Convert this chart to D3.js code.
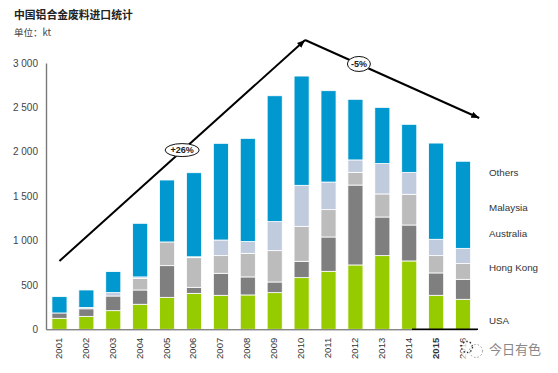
<!doctype html>
<html lang="en">
    <head>
        <meta charset="utf-8">
        <title>中国铝合金废料进口统计</title>
        <script type="text/javascript" src="https://d3js.org/d3.v7.min.js"></script>
        <style>
            body { margin: 0; background: #fff; }
            svg { display: block; }
            text { font-family: "Liberation Sans", Arial, sans-serif; }
            .cjk { font-family: "Noto Sans CJK SC", sans-serif; }
        </style>
    </head>
    <body>
        <script type="text/javascript">
            var svgW = 558;
            var svgH = 373;

            var years = ["2001", "2002", "2003", "2004", "2005", "2006", "2007", "2008",
                         "2009", "2010", "2011", "2012", "2013", "2014", "2015", "2016"];
            var usa       = [124, 146, 210, 282, 360, 405, 383, 387, 413, 582, 653, 725, 830, 770, 383, 338];
            var hongKong  = [60, 85, 165, 161, 357, 68, 248, 203, 120, 184, 387, 900, 435, 405, 252, 225];
            var australia = [0, 0, 0, 128, 267, 334, 199, 266, 353, 394, 308, 143, 260, 346, 195, 177];
            var malaysia  = [0, 15, 38, 19, 0, 10, 176, 132, 327, 462, 311, 140, 342, 247, 184, 172];
            var others    = [184, 197, 237, 604, 698, 947, 1089, 1163, 1418, 1231, 1029, 683, 633, 541, 1084, 981];

            var seriesNames = ["USA", "Hong Kong", "Australia", "Malaysia", "Others"];
            var seriesValues = [usa, hongKong, australia, malaysia, others];
            var yTicks = [0, 500, 1000, 1500, 2000, 2500, 3000];

            var seriesColors = ["#96cb00", "#7f7f7f", "#bcbcbc", "#c0cbdd", "#0098ce"];

            var table = years.map((y, i) => {
                var row = { year: y };
                seriesNames.forEach((n, k) => { row[n] = seriesValues[k][i]; });
                return row;
            });

            var xScale = d3.scaleBand()
                           .domain(years)
                           .range([46, 476.5])
                           .paddingInner(0.44)
                           .paddingOuter(0.22);

            var yScale = d3.scaleLinear()
                           .domain([0, 3000])
                           .range([329.3, 63]);

            // same positions as the bar centres, but takes fractions of a year
            var yearScale = d3.scaleLinear()
                              .domain([2001, 2016])
                              .range([xScale("2001") + xScale.bandwidth() / 2,
                                      xScale("2016") + xScale.bandwidth() / 2]);

            var svg = d3.select("body")
                        .append("svg")
                        .attr("width", svgW)
                        .attr("height", svgH);

            // Stacked bars
            var series = d3.stack().keys(seriesNames)(table);

            svg.append("g")
               .selectAll("g")
               .data(series)
               .enter()
               .append("g")
               .attr("fill", (_, i) => seriesColors[i])
               .selectAll("rect")
               .data(d => d)
               .enter()
               .append("rect")
               .attr("x", d => xScale(d.data.year))
               .attr("y", d => yScale(d[1]))
               .attr("width", xScale.bandwidth())
               .attr("height", d => Math.max(0, yScale(d[0]) - yScale(d[1])))
               .attr("stroke", "#fff")
               .attr("stroke-width", 0.8);

            // Axes
            var yAxis = d3.axisLeft(yScale)
                          .tickValues(yTicks)
                          .tickSize(0)
                          .tickPadding(8)
                          .tickFormat(d => d3.format(",")(d).replace(",", " "));

            var yG = svg.append("g")
                        .attr("transform", "translate(46,0)")
                        .call(yAxis);
            yG.select(".domain").attr("stroke", "#7a7a7a").attr("stroke-width", 1.4);
            yG.selectAll("text")
              .attr("font-size", 10)
              .attr("fill", "#444");

            var xAxis = d3.axisBottom(xScale).tickSize(0).tickPadding(0);
            var xG = svg.append("g")
                        .attr("transform", "translate(0,329.3)")
                        .call(xAxis);
            xG.select(".domain").attr("stroke", "#555").attr("stroke-width", 1);
            xG.selectAll("text")
              .attr("font-size", 9.5)
              .attr("fill", "#333")
              .attr("text-anchor", "end")
              .attr("font-weight", d => d == "2015" ? "bold" : "normal")
              .attr("transform", "translate(2.5,8.5) rotate(-90)")
              .attr("y", 0)
              .attr("dy", 0);

            // tail of the baseline is darker from 2014 on
            svg.append("line")
               .attr("x1", 412).attr("x2", 478)
               .attr("y1", yScale(0)).attr("y2", yScale(0))
               .attr("stroke", "#000").attr("stroke-width", 1.4);

            // Titles
            svg.append("text").attr("class", "cjk")
               .attr("x", 14).attr("y", 19)
               .attr("font-size", 10.8).attr("font-weight", "bold").attr("fill", "#222")
               .text("中国铝合金废料进口统计");
            svg.append("text").attr("class", "cjk")
               .attr("x", 14).attr("y", 36)
               .attr("font-size", 9.5).attr("fill", "#444")
               .text("单位：kt");

            // Series labels, not evenly spaced in the original
            var labelBaseline = { "USA": 323.5, "Hong Kong": 270.5, "Australia": 236.5, "Malaysia": 211, "Others": 175.5 };
            svg.append("g")
               .selectAll("text")
               .data(seriesNames)
               .enter()
               .append("text")
               .attr("x", 489)
               .attr("y", d => labelBaseline[d])
               .attr("font-size", 9.8)
               .attr("fill", "#333")
               .text(d => d);

            // Trend arrows
            svg.append("defs")
               .append("marker")
               .attr("id", "head")
               .attr("viewBox", "0 0 10 8")
               .attr("refX", 10).attr("refY", 4)
               .attr("markerWidth", 8).attr("markerHeight", 6.5)
               .attr("markerUnits", "userSpaceOnUse")
               .attr("orient", "auto")
               .append("path")
               .attr("d", "M0,0L10,4L0,8Z")
               .attr("fill", "#000");

            var trendArrows = [
                { from: [2001, 769], to: [2010.13, 3259] },
                { from: [2010.13, 3259], to: [2016.6, 2380] }
            ];
            svg.append("g")
               .selectAll("line")
               .data(trendArrows)
               .enter()
               .append("line")
               .attr("x1", d => yearScale(d.from[0])).attr("y1", d => yScale(d.from[1]))
               .attr("x2", d => yearScale(d.to[0])).attr("y2", d => yScale(d.to[1]))
               .attr("stroke", "#000")
               .attr("stroke-width", 2)
               .attr("marker-end", "url(#head)");

            var badges = [
                { text: "+26%", year: 2005.56, value: 2019, rx: 17, ry: 6.5 },
                { text: "-5%", year: 2012.13, value: 2989, rx: 11.5, ry: 7.5 }
            ];
            var badge = svg.append("g")
                           .selectAll("g")
                           .data(badges)
                           .enter()
                           .append("g")
                           .attr("transform", d => "translate(" + yearScale(d.year) + "," + yScale(d.value) + ")");
            badge.append("ellipse")
                 .attr("rx", d => d.rx).attr("ry", d => d.ry)
                 .attr("fill", "#fff").attr("stroke", "#111").attr("stroke-width", 1);
            badge.append("text")
                 .attr("text-anchor", "middle")
                 .attr("dy", 3.2)
                 .attr("font-size", 9)
                 .attr("font-weight", "bold")
                 .attr("fill", "#222")
                 .text(d => d.text);

            // Watermark
            svg.append("text").attr("class", "cjk")
               .attr("x", 489).attr("y", 354)
               .attr("font-size", 13).attr("fill", "#888")
               .text("今日有色");
            var mark = svg.append("g").attr("transform", "translate(473,349)");
            mark.append("circle").attr("r", 12).attr("fill", "#fff").attr("opacity", 0.75);
            mark.append("circle").attr("cx", -6).attr("cy", -2).attr("r", 5.5)
                .attr("fill", "none").attr("stroke", "#333").attr("stroke-width", 1.4).attr("stroke-dasharray", "1.5 2");
            mark.append("circle").attr("cx", 3).attr("cy", 2).attr("r", 6.5)
                .attr("fill", "none").attr("stroke", "#999").attr("stroke-width", 1).attr("stroke-dasharray", "1.5 2");
        </script>
    </body>
</html>
